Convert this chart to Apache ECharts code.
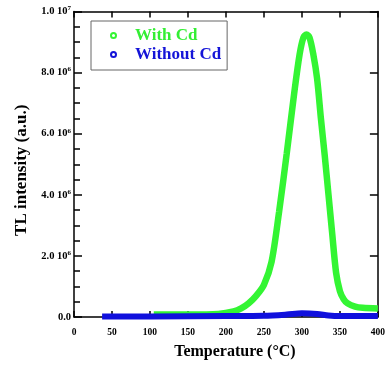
<!DOCTYPE html>
<html><head><meta charset="utf-8">
<script src="https://cdn.jsdelivr.net/npm/echarts@6/dist/echarts.min.js"></script>
<style>html,body{margin:0;padding:0;background:#fff}#c{width:388px;height:365px}</style>
</head><body><div id="c"></div>
<script>
var seriesNames = ['With Cd', 'Without Cd'];
var withCdT = [105,150,190,210,220,230,240,250,260,270,280,290,297,302,306,310,315,320,325,330,335,340,345,350,355,360,370,380,400];
var withCdV = [0.08,0.08,0.1,0.18,0.28,0.45,0.7,1.05,1.8,3.45,5.35,7.35,8.6,9.15,9.25,9.15,8.6,7.8,6.5,5.3,4.0,2.7,1.45,0.85,0.58,0.45,0.34,0.3,0.28];
var withoutCdT = [37,100,200,250,280,300,320,335,350,400];
var withoutCdV = [0.02,0.02,0.03,0.04,0.08,0.12,0.1,0.05,0.03,0.03];
var yTickMant = {0:'0.0', 2:'2.0 10', 4:'4.0 10', 6:'6.0 10', 8:'8.0 10', 10:'1.0 10'};
var yTickExp = {0:'', 2:'6', 4:'6', 6:'6', 8:'6', 10:'7'};
var scale = 1e6;

function pts(t, v){ return t.map(function(x,i){ return [x, v[i]*scale]; }); }

var font = 'Liberation Serif';
var chart = echarts.init(document.getElementById('c'));
chart.setOption({
  animation: false,
  backgroundColor: '#fff',
  grid: {left: 74, right: 5, top: 11.5, bottom: 46},
  legend: {
    orient: 'vertical', left: 91, top: 21,
    padding: [6, 6, 7, 19], itemGap: 2,
    borderColor: '#666', borderWidth: 1,
    itemWidth: 5, itemHeight: 5,
    data: [
      {name: seriesNames[0], icon: 'emptyCircle', textStyle: {color: '#33ee33'}},
      {name: seriesNames[1], icon: 'emptyCircle', textStyle: {color: '#1414d8'}}
    ],
    textStyle: {fontFamily: font, fontWeight: 'bold', fontSize: 17, padding: [0,0,0,14]}
  },
  xAxis: [{
    type: 'value', min: 0, max: 400, interval: 50, position: 'bottom',
    name: 'Temperature (°C)', nameLocation: 'middle', nameGap: 27,
    nameTextStyle: {fontFamily: font, fontWeight: 'bold', fontSize: 16, color: '#000', padding: [0,0,0,18]},
    axisLine: {onZero: false, lineStyle: {color: '#000', width: 1.5}},
    axisTick: {inside: true, length: 6, lineStyle: {color: '#000', width: 1.5}},
    axisLabel: {fontFamily: font, fontWeight: 'bold', fontSize: 9.5, color: '#000', margin: 11},
    splitLine: {show: false}
  },{
    type: 'value', min: 0, max: 400, interval: 50, position: 'top',
    axisLine: {onZero: false, lineStyle: {color: '#000', width: 1.5}},
    axisTick: {inside: true, length: 6, lineStyle: {color: '#000', width: 1.5}},
    axisLabel: {show: false}, splitLine: {show: false}
  }],
  yAxis: [{
    type: 'value', min: 0, max: 1e7, interval: 2e6, position: 'left',
    name: 'TL intensity (a.u.)', nameLocation: 'middle', nameGap: 42,
    nameTextStyle: {fontFamily: font, fontWeight: 'bold', fontSize: 17, color: '#000', padding: [0,12,0,0]},
    axisLine: {show: true, onZero: false, lineStyle: {color: '#000', width: 1.5}},
    axisTick: {inside: true, length: 8, lineStyle: {color: '#000', width: 1.5}},
    minorTick: {show: true, splitNumber: 4, length: 6, lineStyle: {color: '#000', width: 1.5}},
    axisLabel: {fontFamily: font, fontWeight: 'bold', fontSize: 10.5, color: '#000', margin: 3,
      formatter: function(v){ var k = Math.round(v/scale); return '{m|' + yTickMant[k] + '}' + (yTickExp[k] ? '{e|' + yTickExp[k] + '}' : ''); },
      rich: {
        m: {fontFamily: font, fontWeight: 'bold', fontSize: 10.5, color: '#000'},
        e: {fontFamily: font, fontWeight: 'bold', fontSize: 7, color: '#000', padding: [0,0,6,0]}
      }},
    splitLine: {show: false}
  },{
    type: 'value', min: 0, max: 1e7, interval: 2e6, position: 'right',
    axisLine: {show: true, onZero: false, lineStyle: {color: '#000', width: 1.5}},
    axisTick: {inside: true, length: 8, lineStyle: {color: '#000', width: 1.5}},
    axisLabel: {show: false}, splitLine: {show: false}
  }],
  series: [{
    name: seriesNames[0], type: 'line', smooth: 0.3, showSymbol: false, symbol: 'emptyCircle',
    color: '#33f533', lineStyle: {width: 6.5, color: '#33f533'},
    data: pts(withCdT, withCdV)
  },{
    name: seriesNames[1], type: 'line', smooth: 0.3, showSymbol: false, symbol: 'emptyCircle',
    color: '#1414d8', lineStyle: {width: 6, color: '#1010dd'},
    data: pts(withoutCdT, withoutCdV)
  }]
});
</script></body></html>
